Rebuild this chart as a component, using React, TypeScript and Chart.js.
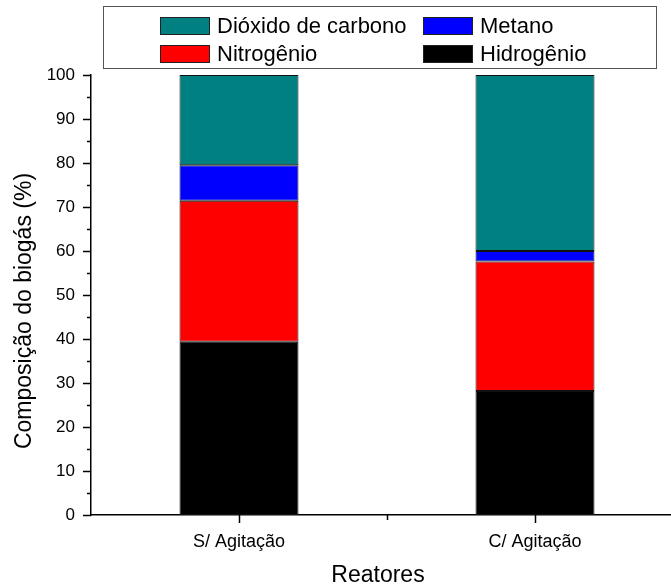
import React, { useEffect, useRef } from "react";
import { Chart, registerables } from "chart.js";

Chart.register(...registerables);

const categories = ["S/ Agitação", "C/ Agitação"];
const hidrogenio = [39.4, 28.2];
const nitrogenio = [32.0, 29.4];
const metano = [8.1, 2.4];
const dioxido = [20.5, 40.0];
const yTicks = [0, 10, 20, 30, 40, 50, 60, 70, 80, 90, 100];

const FONT = "'Liberation Sans', Arial, sans-serif";

const decorPlugin = {
  id: "decor",
  afterDraw(chart: any) {
    const ctx = chart.ctx;
    const xs = chart.scales.x;
    const ys = chart.scales.y;
    const axisX = chart.chartArea.left;
    const axisY = chart.chartArea.bottom;
    ctx.save();
    ctx.strokeStyle = "#000";
    ctx.lineWidth = 1.5;
    // y ticks
    for (let v = 0; v <= 100; v += 5) {
      const py = Math.round(ys.getPixelForValue(v)) + 0.5;
      const len = v % 10 === 0 ? 8 : 4;
      ctx.beginPath();
      ctx.moveTo(axisX, py);
      ctx.lineTo(axisX - len, py);
      ctx.stroke();
    }
    // x ticks
    const centers = categories.map((_, i) => xs.getPixelForValue(i));
    centers.forEach((cx) => {
      const px = Math.round(cx) + 0.5;
      ctx.beginPath();
      ctx.moveTo(px, axisY);
      ctx.lineTo(px, axisY + 8);
      ctx.stroke();
    });
    for (let i = 0; i < centers.length - 1; i++) {
      const px = Math.round((centers[i] + centers[i + 1]) / 2) + 0.5;
      ctx.beginPath();
      ctx.moveTo(px, axisY);
      ctx.lineTo(px, axisY + 5);
      ctx.stroke();
    }
    // axis titles
    ctx.fillStyle = "#000";
    ctx.font = `23px ${FONT}`;
    ctx.textAlign = "center";
    ctx.textBaseline = "middle";
    ctx.fillText("Reatores", 378, 576);
    ctx.save();
    ctx.translate(25, 311);
    ctx.rotate(-Math.PI / 2);
    ctx.fillText("Composição do biogás (%)", 0, 0);
    ctx.restore();

    // legend box
    ctx.lineWidth = 1;
    ctx.strokeStyle = "#555";
    ctx.strokeRect(103.5, 6.5, 553, 62);
    const ds = chart.data.datasets;
    const order = [3, 2, 1, 0];
    const colX = [160, 423];
    const rowY = [17, 45];
    ctx.font = `22px ${FONT}`;
    ctx.textAlign = "left";
    order.forEach((di, k) => {
      const col = k % 2;
      const row = Math.floor(k / 2);
      const x = colX[col];
      const y = rowY[row];
      ctx.fillStyle = ds[di].backgroundColor;
      ctx.fillRect(x, y, 50, 18);
      ctx.strokeStyle = "#222";
      ctx.lineWidth = 1;
      ctx.strokeRect(x + 0.5, y + 0.5, 49, 17);
      ctx.fillStyle = "#000";
      ctx.fillText(ds[di].label, x + 57, y + 10);
    });
    ctx.restore();
  },
};

export default function App() {
  const ref = useRef<HTMLCanvasElement>(null);
  useEffect(() => {
    if (!ref.current) return;
    const common = {
      borderColor: "#111",
      borderWidth: 1,
      borderSkipped: false,
      categoryPercentage: 1,
      barPercentage: 0.402,
    };
    const chart = new Chart(ref.current, {
      type: "bar",
      data: {
        labels: categories,
        datasets: [
          { label: "Hidrogênio", data: hidrogenio, backgroundColor: "#000000", ...common },
          { label: "Nitrogênio", data: nitrogenio, backgroundColor: "#FF0000", ...common },
          { label: "Metano", data: metano, backgroundColor: "#0000FF", ...common },
          { label: "Dióxido de carbono", data: dioxido, backgroundColor: "#008080", ...common },
        ] as any,
      },
      options: {
        animation: false,
        responsive: false,
        maintainAspectRatio: false,
        layout: { padding: { top: 75, right: 17, left: 0, bottom: 0 } },
        plugins: { legend: { display: false }, tooltip: { enabled: false }, title: { display: false } },
        scales: {
          x: {
            stacked: true,
            offset: true,
            grid: { display: false, drawTicks: false },
            border: { display: true, color: "#000", width: 1.5 },
            ticks: { color: "#000", font: { family: FONT, size: 18 }, padding: 16, maxRotation: 0 },
            afterFit: (s: any) => { s.height = 72; },
          },
          y: {
            stacked: true,
            min: 0,
            max: 100,
            afterBuildTicks: (s: any) => { s.ticks = yTicks.map((v) => ({ value: v })); },
            grid: { display: false, drawTicks: false },
            border: { display: true, color: "#000", width: 1.5 },
            ticks: { color: "#000", font: { family: FONT, size: 17 }, padding: 16 },
            afterFit: (s: any) => { s.width = 91; },
          },
        },
      } as any,
      plugins: [decorPlugin],
    });
    return () => chart.destroy();
  }, []);
  return (
    <div style={{ position: "absolute", left: 0, top: 0, width: 671, height: 587, overflow: "hidden", background: "#fff" }}>
      <canvas ref={ref} width={700} height={587} style={{ width: 700, height: 587, display: "block" }} />
    </div>
  );
}
